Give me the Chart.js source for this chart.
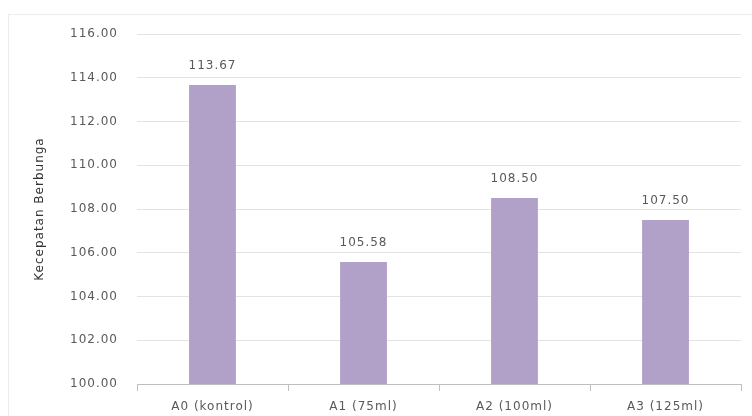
<!DOCTYPE html>
<html>
<head>
<meta charset="utf-8">
<script src="https://cdn.jsdelivr.net/npm/chart.js@4.4.1/dist/chart.umd.min.js"></script>
<style>
  html, body { margin: 0; padding: 0; background: #ffffff; }
  #wrap { width: 752px; height: 416px; position: relative; }
</style>
</head>
<body>
<div id="wrap"><canvas id="c" width="752" height="416"></canvas></div>
<script>
// Flowering speed per treatment
const categories = ['A0 (kontrol)', 'A1 (75ml)', 'A2 (100ml)', 'A3 (125ml)'];
const values = [113.67, 105.58, 108.50, 107.50];
const yTicks = [100, 102, 104, 106, 108, 110, 112, 114, 116];
const yTitle = 'Kecepatan Berbunga';

const FONT = 'DejaVu Sans';
const TEXT = '#595959';

// Wider letter spacing for all canvas text
const spacing = {
  id: 'spacing',
  beforeLayout(chart) { chart.ctx.letterSpacing = '1px'; },
  beforeDraw(chart) { chart.ctx.letterSpacing = '1px'; }
};

// Thin frame around the whole chart
const frame = {
  id: 'frame',
  beforeDraw(chart) {
    const ctx = chart.ctx;
    ctx.save();
    ctx.strokeStyle = '#ececec';
    ctx.lineWidth = 1;
    ctx.strokeRect(8.5, 14.5, 760, 420);
    ctx.restore();
  }
};

// Value labels above each bar
const valueLabels = {
  id: 'valueLabels',
  afterDatasetsDraw(chart) {
    const ctx = chart.ctx;
    const meta = chart.getDatasetMeta(0);
    ctx.save();
    ctx.font = '12px "' + FONT + '"';
    ctx.fillStyle = TEXT;
    ctx.textAlign = 'center';
    ctx.textBaseline = 'middle';
    meta.data.forEach((bar, i) => {
      ctx.fillText(values[i].toFixed(2), bar.x, bar.y - 19);
    });
    ctx.restore();
  }
};

new Chart(document.getElementById('c'), {
  type: 'bar',
  data: {
    labels: categories,
    datasets: [{
      data: values,
      backgroundColor: '#b1a0c7',
      borderWidth: 0,
      categoryPercentage: 1,
      barPercentage: 0.31
    }]
  },
  options: {
    responsive: false,
    animation: false,
    events: [],
    layout: { padding: { left: 33, right: 11, top: 34, bottom: 2 } },
    plugins: { legend: { display: false }, tooltip: { enabled: false } },
    scales: {
      x: {
        grid: { drawOnChartArea: false, color: '#bfbfbf', tickLength: 7, offset: true },
        border: { color: '#bfbfbf' },
        ticks: { color: TEXT, font: { family: FONT, size: 12 }, padding: 9, maxRotation: 0 },
        afterFit(axis) { axis.height = 30; }
      },
      y: {
        min: 100,
        max: 116,
        afterBuildTicks(axis) { axis.ticks = yTicks.map(v => ({ value: v })); },
        grid: { color: '#e3e3e3', drawTicks: false },
        border: { display: false },
        ticks: {
          color: TEXT,
          font: { family: FONT, size: 12 },
          padding: 19,
          callback: v => Number(v).toFixed(2)
        },
        title: {
          display: true,
          text: yTitle,
          color: '#333333',
          font: { family: FONT, size: 12 },
          padding: 0
        },
        afterFit(axis) { axis.width = 104; }
      }
    }
  },
  plugins: [spacing, frame, valueLabels]
});
</script>
</body>
</html>
